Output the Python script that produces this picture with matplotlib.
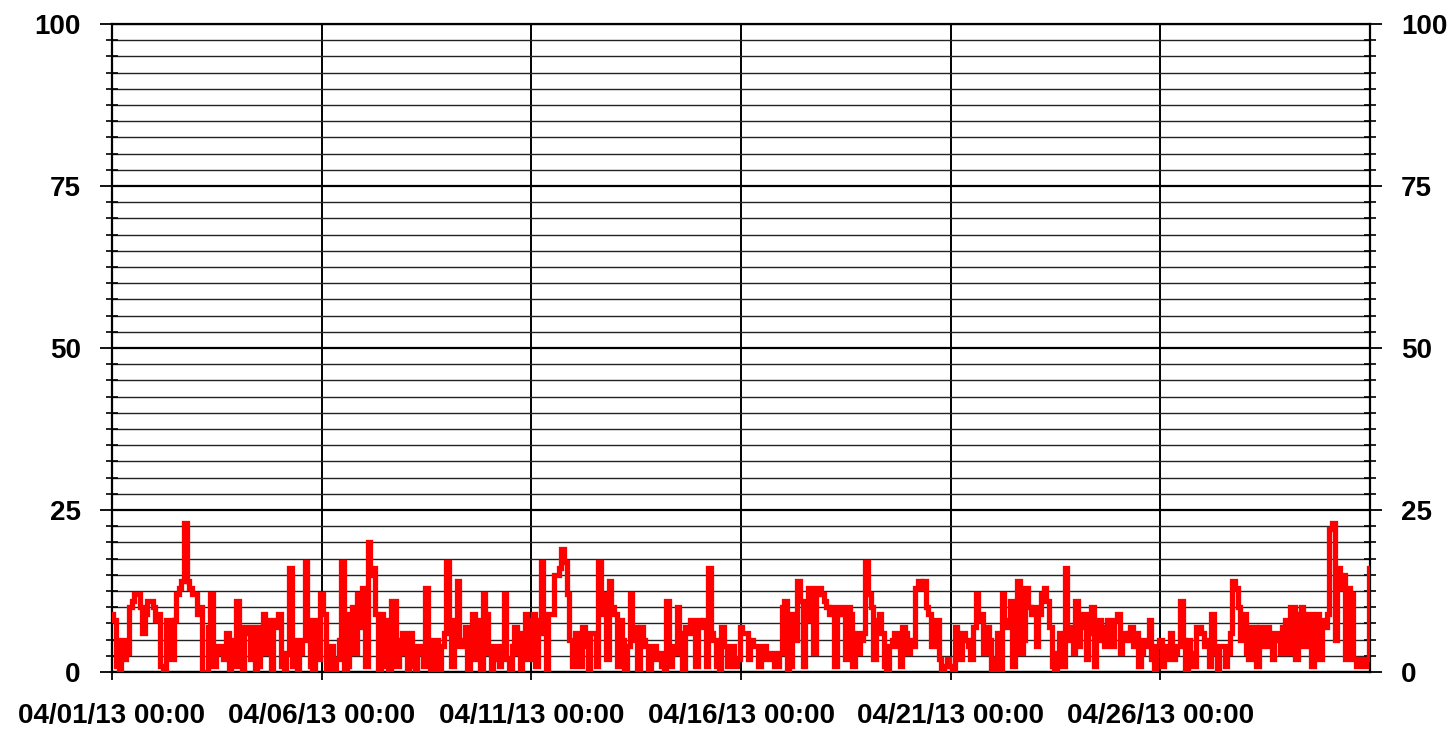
import numpy as np
import matplotlib
matplotlib.use("Agg")
import matplotlib.pyplot as plt
from matplotlib.ticker import MultipleLocator, FixedLocator

# ---- data (90-minute samples, 04/01/13 00:00 .. 05/01/13 00:00), one row per day ----
values = [
    9, 8, 1, 0, 5, 2, 3, 10, 11, 12, 12, 10, 6, 9, 11, 11,
    10, 8, 9, 1, 0, 8, 8, 2, 8, 12, 13, 14, 23, 14, 13, 12,
    12, 9, 10, 0, 0, 7, 12, 1, 3, 4, 4, 2, 6, 0, 1, 5,
    11, 1, 0, 7, 6, 2, 7, 0, 1, 7, 9, 3, 8, 0, 7, 8,
    9, 1, 0, 3, 16, 1, 5, 0, 3, 5, 17, 8, 1, 0, 8, 2,
    12, 9, 0, 4, 4, 0, 2, 5, 17, 0, 1, 9, 10, 3, 12, 7,
    13, 1, 20, 15, 16, 9, 0, 9, 8, 1, 0, 11, 11, 1, 5, 6,
    3, 0, 6, 1, 0, 4, 3, 1, 13, 4, 0, 5, 5, 0, 4, 6,
    17, 7, 1, 8, 14, 4, 5, 7, 0, 6, 9, 2, 8, 0, 12, 9,
    3, 0, 4, 2, 1, 4, 12, 2, 0, 4, 7, 3, 0, 6, 9, 2,
    8, 9, 1, 8, 17, 6, 0, 9, 9, 15, 15, 16, 19, 17, 12, 5,
    1, 6, 5, 1, 7, 4, 0, 6, 6, 1, 17, 9, 12, 2, 14, 10,
    9, 1, 8, 5, 0, 4, 12, 5, 7, 0, 7, 5, 4, 0, 3, 4,
    2, 3, 1, 0, 11, 1, 4, 3, 10, 6, 0, 7, 6, 8, 7, 1,
    8, 7, 8, 1, 16, 6, 5, 1, 0, 7, 4, 1, 3, 4, 1, 2,
    7, 6, 6, 2, 5, 4, 4, 1, 3, 4, 2, 3, 3, 1, 1, 3,
    10, 11, 0, 1, 9, 5, 14, 11, 1, 8, 13, 13, 3, 12, 13, 12,
    11, 10, 9, 10, 1, 9, 10, 9, 2, 10, 9, 1, 6, 3, 5, 6,
    17, 12, 10, 2, 8, 9, 6, 1, 0, 4, 5, 6, 4, 1, 7, 6,
    3, 5, 4, 13, 14, 13, 14, 10, 9, 4, 6, 8, 2, 0, 1, 2,
    1, 0, 7, 5, 2, 6, 5, 4, 2, 7, 12, 8, 9, 3, 7, 5,
    0, 2, 6, 0, 12, 7, 8, 11, 1, 9, 14, 3, 5, 13, 10, 9,
    10, 4, 9, 12, 13, 11, 7, 1, 0, 3, 6, 1, 16, 5, 7, 3,
    11, 4, 7, 9, 2, 6, 10, 1, 5, 8, 7, 4, 8, 6, 4, 8,
    9, 3, 6, 5, 6, 7, 4, 6, 1, 3, 5, 4, 8, 2, 0, 4,
    5, 1, 2, 4, 6, 2, 3, 4, 11, 5, 0, 5, 3, 1, 7, 7,
    6, 4, 5, 1, 9, 3, 0, 4, 4, 1, 3, 6, 14, 13, 10, 5,
    9, 3, 2, 7, 7, 1, 7, 4, 6, 7, 4, 2, 6, 5, 3, 7,
    8, 3, 10, 10, 2, 9, 10, 4, 7, 9, 1, 8, 9, 2, 8, 7,
    9, 22, 23, 5, 16, 13, 15, 2, 13, 12, 2, 1, 2, 2, 1, 2,
    16,
]
samples_per_day = 16
x_tick_days = [0, 5, 10, 15, 20, 25]
x_tick_labels = ["04/01/13 00:00", "04/06/13 00:00", "04/11/13 00:00",
                 "04/16/13 00:00", "04/21/13 00:00", "04/26/13 00:00"]
y_ticks = [0, 25, 50, 75, 100]
y_tick_labels = ["0", "25", "50", "75", "100"]

days = np.arange(len(values)) / samples_per_day

plt.rcParams['font.family'] = ['Liberation Sans', 'DejaVu Sans']
plt.rcParams['font.weight'] = 'bold'

fig = plt.figure(figsize=(14.52, 7.36), dpi=100)
W, H = 1452, 736
ax = fig.add_axes([112 / W, 64 / H, 1258 / W, 648 / H])

ax.set_xlim(0, 30)
ax.set_ylim(0, 100)

# grid
ax.yaxis.set_major_locator(FixedLocator(y_ticks))
ax.yaxis.set_minor_locator(MultipleLocator(2.5))
ax.xaxis.set_major_locator(FixedLocator(x_tick_days))
ax.grid(True, which='major', axis='y', color='black', lw=1.6, zorder=1)
ax.grid(True, which='minor', axis='y', color='#222222', lw=1.0, zorder=1)
ax.grid(True, which='major', axis='x', color='black', lw=1.4, zorder=1)

ax.plot(days, values, color='#ff0000', lw=3.8, drawstyle='steps-mid',
        solid_joinstyle='miter', zorder=3)

ax.set_xticks(x_tick_days)
ax.set_xticklabels(x_tick_labels)
ax.set_yticks(y_ticks)
ax.set_yticklabels(y_tick_labels)

fs = 20
ax.tick_params(axis='y', which='major', direction='inout', length=17, width=1.3,
               left=True, right=True, labelleft=True, labelright=True,
               labelsize=fs, pad=14, colors='black')
ax.tick_params(axis='y', which='minor', direction='inout', length=8, width=1.2,
               left=True, right=True)
ax.tick_params(axis='x', which='major', direction='inout', length=11, width=1.3,
               labelsize=fs, pad=17)
for lab in ax.get_xticklabels() + ax.get_yticklabels():
    lab.set_fontweight('bold')

for s in ax.spines.values():
    s.set_color('black')
    s.set_linewidth(1.6)
ax.set_facecolor('white')

fig.savefig('out.png', dpi=100, facecolor='white')
